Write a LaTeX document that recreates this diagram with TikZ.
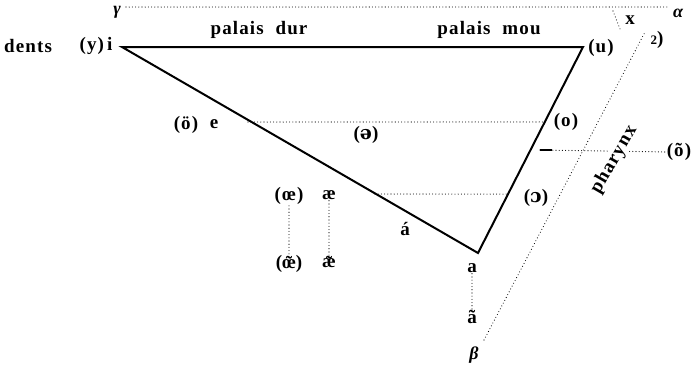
\documentclass[tikz,border=0pt]{standalone}
\usepackage{fontspec}
\setmainfont[LetterSpace=6]{Liberation Serif}
\newfontfamily\ipafont[LetterSpace=6]{DejaVu Serif}
\usepackage{tikz}
\usetikzlibrary{calc}
\newcommand\nasalize[1]{\ooalign{#1\cr\hidewidth\raisebox{-0.15ex}{˜}\hidewidth\cr}}
\tikzset{
  lbl/.style={font=\fontsize{19}{22}\selectfont\bfseries, inner sep=1pt},
  greek/.style={font=\fontsize{18}{20}\selectfont\bfseries\itshape, inner sep=1pt},
  tongue/.style={line width=2pt, line join=miter},
  dotline/.style={line width=1.1pt, line cap=round, dash pattern=on 0pt off 3.2pt},
}

\begin{document}
\begin{tikzpicture}[x=1pt, y=-1pt]
  \useasboundingbox (0,0) rectangle (696,373);

  % corners of the vowel triangle
  \coordinate (i) at (122,47);
  \coordinate (u) at (583,47);
  \coordinate (a) at (478,253);
  \draw[tongue] (i) -- (u) -- (a) -- cycle;

  % helper points
  \coordinate (top0) at (126,7);
  \coordinate (top1) at (668,7);
  \coordinate (eline) at (248,122);
  \coordinate (aeline) at (375,194);
  \coordinate (ph0) at (484,340);
  \coordinate (ph1) at (645,32);
  \coordinate (x0) at (613,11);
  \coordinate (x1) at (620,29);
  \coordinate (nasal0) at (540,150);

  % labels
  \node[greek] (gamma) at (117,12) {γ};
  \node[greek] (alpha) at (678,13) {α};
  \node[greek] (beta) at (474,355) {β};
  \node[lbl] (pdur) at (259,30) {palais\ \ dur};
  \node[lbl] (pmou) at (489,30) {palais\ \ mou};
  \node[lbl] (dents) at (28,46) {dents};
  \node[lbl] (yi) at (96,46) {(y)\,i};
  \node[lbl] (uu) at (601,48) {(u)};
  \node[lbl] (x) at (630,20) {x};
  \node[lbl] (note) at (657,40) {{\fontsize{13}{14}\selectfont 2})};
  \node[lbl] (oerond) at (186,125) {(ö)};
  \node[lbl] (e) at (214,124) {e};
  \node[lbl] (schwa) at (366,135) {({\ipafont ə})};
  \node[lbl] (o) at (566,122) {(o)};
  \node[lbl] (oe) at (289,196) {(œ)};
  \node[lbl] (ae) at (329,195) {æ};
  \node[lbl] (oo) at (536,198) {({\ipafont ɔ})};
  \node[lbl] (aacute) at (405,229) {á};
  \node[lbl] (alow) at (472,268) {a};
  \node[lbl] (anas) at (472,317) {ã};
  \node[lbl] (oenas) at (289,264) {(\nasalize{œ})};
  \node[lbl] (aenas) at (329,264) {\nasalize{æ}};
  \node[lbl] (onas) at (679,152) {(õ)};

  % dotted lines
  \draw[dotline] (top0) -- (top1);
  \draw[dotline] (ph0) -- (ph1);
  \draw[dotline] (x0) -- (x1);
  \draw[dotline] (eline) -- ($(u)!0.364!(a)$);
  \draw[dotline] (aeline) -- ($(u)!0.714!(a)$);
  \draw[dotline] (nasal0) -- (onas.west);
  \draw[line width=1.2pt] (nasal0) -- ++(12,0);
  \draw[dotline] (oe.south) -- (oenas.north);
  \draw[dotline] (ae.south) -- (aenas.north);
  \draw[dotline] (alow.south) -- (anas.north);

  % pharynx label over the nasal line
  \node[lbl, rotate=60, fill=white, inner sep=0pt] (pharynx) at (614,160) {pharynx};
\end{tikzpicture}
\end{document}
